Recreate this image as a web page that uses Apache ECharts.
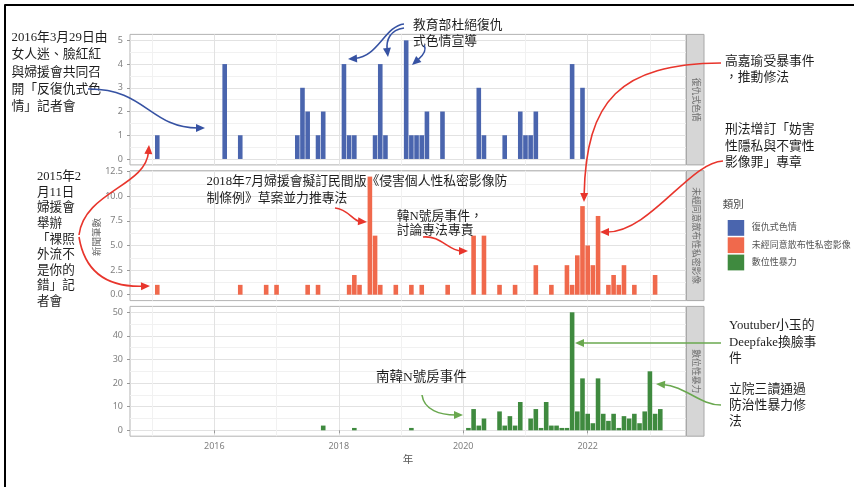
<!DOCTYPE html>
<html>
<head>
<meta charset="utf-8">
<title>數位性暴力相關新聞筆數</title>
<script src="https://cdn.jsdelivr.net/npm/echarts@6/dist/echarts.min.js"></script>
<style>
  html, body { margin: 0; padding: 0; background: #fff; }
  #chart { width: 854px; height: 487px; }
</style>
</head>
<body>
<div id="chart"></div>
<script>
// 類別（分面）
const categories = ['復仇式色情', '未經同意散布性私密影像', '數位性暴力']

// 復仇式色情：每月新聞筆數
const revengeMonths = ['2015-02', '2016-03', '2016-06', '2017-05', '2017-06', '2017-07', '2017-09', '2017-10',
  '2018-02', '2018-03', '2018-04', '2018-08', '2018-09', '2018-10', '2019-02', '2019-03', '2019-04', '2019-05',
  '2019-06', '2019-09', '2020-04', '2020-05', '2020-09', '2020-12', '2021-01', '2021-02', '2021-03', '2021-10', '2021-12']
const revengeCounts = [1, 4, 1, 1, 3, 2, 1, 2, 4, 1, 1, 1, 4, 1, 5, 1, 1, 1, 2, 2, 3, 1, 1, 2, 1, 1, 2, 4, 3]

// 未經同意散布性私密影像
const imageMonths = ['2015-02', '2016-06', '2016-11', '2017-01', '2017-07', '2017-09', '2018-03', '2018-04',
  '2018-05', '2018-07', '2018-08', '2018-09', '2018-12', '2019-03', '2019-05', '2019-10', '2020-03', '2020-05',
  '2020-08', '2020-11', '2021-03', '2021-06', '2021-09', '2021-10', '2021-11', '2021-12', '2022-01', '2022-02',
  '2022-03', '2022-05', '2022-06', '2022-07', '2022-08', '2022-10', '2023-02']
const imageCounts = [1, 1, 1, 1, 1, 1, 1, 2, 1, 12, 6, 1, 1, 1, 1, 1, 6, 6, 1, 1, 3, 1, 3, 1, 4, 9, 5, 3, 8, 1, 2, 1, 3, 1, 2]

// 數位性暴力
const digitalMonths = ['2017-10', '2018-04', '2019-03', '2020-02', '2020-03', '2020-04', '2020-05', '2020-08',
  '2020-09', '2020-10', '2020-11', '2020-12', '2021-02', '2021-03', '2021-04', '2021-05', '2021-06', '2021-07',
  '2021-08', '2021-09', '2021-10', '2021-11', '2021-12', '2022-01', '2022-02', '2022-03', '2022-04', '2022-05',
  '2022-06', '2022-07', '2022-08', '2022-09', '2022-10', '2022-11', '2022-12', '2023-01', '2023-02', '2023-03']
const digitalCounts = [2, 1, 1, 1, 9, 2, 5, 8, 2, 6, 2, 12, 5, 9, 1, 12, 2, 2, 1, 1, 50, 8, 22, 7, 3, 22, 7, 4,
  7, 1, 6, 5, 7, 3, 8, 25, 7, 9]

// 刻度
const yearLabels = [2016, 2018, 2020, 2022]
const yearLines = [2015, 2016, 2017, 2018, 2019, 2020, 2021, 2022, 2023]
const revengeTicks = [0, 1, 2, 3, 4, 5]
const imageTicks = [0, 2.5, 5, 7.5, 10, 12.5]
const digitalTicks = [0, 10, 20, 30, 40, 50]

// 樣式
const colors = ['#4a65ae', '#f0694c', '#3f8a3f']
const sansFont = "'Noto Sans', 'Noto Sans CJK TC', sans-serif"
const noteFont = "'Liberation Serif', 'Noto Sans CJK TC', serif"
const majorGrid = '#e2e2e2'
const minorGrid = '#f1f1f1'
const panels = [
  { top: 34.4, height: 130.5, range: [-0.25, 5.25], ticks: revengeTicks },
  { top: 170.7, height: 129.9, range: [-0.6, 12.6], ticks: imageTicks },
  { top: 306.4, height: 129.8, range: [-2.5, 52.5], ticks: digitalTicks }
]

// 'YYYY-MM' -> 年份小數
function toYear(month) {
  const [y, m] = month.split('-').map(Number)
  return y + (m - 1) / 12
}

function pairs(months, counts) {
  return months.map((m, i) => [toYear(m), counts[i]])
}

// 主刻度之間加上次格線
function withMinor(ticks) {
  const out = []
  ticks.forEach((t, i) => {
    out.push(t)
    if (i < ticks.length - 1) out.push((t + ticks[i + 1]) / 2)
  })
  return out
}

// 曲線箭頭
function arrow(pts, color) {
  const [p0, c1, c2, p3] = pts
  const dx = p3[0] - c2[0]
  const dy = p3[1] - c2[1]
  const len = Math.hypot(dx, dy)
  const ux = dx / len
  const uy = dy / len
  const head = 9
  const half = 4
  const bx = p3[0] - ux * head
  const by = p3[1] - uy * head
  return [
    {
      type: 'bezierCurve', z: 100, silent: true,
      shape: { x1: p0[0], y1: p0[1], cpx1: c1[0], cpy1: c1[1], cpx2: c2[0], cpy2: c2[1], x2: bx + ux * 2, y2: by + uy * 2 },
      style: { stroke: color, lineWidth: 1.6, fill: null }
    },
    {
      type: 'polygon', z: 100, silent: true,
      shape: { points: [p3, [bx - uy * half, by + ux * half], [bx + uy * half, by - ux * half]] },
      style: { fill: color }
    }
  ]
}

// 註解文字
function note(text, x, y, lh, size) {
  return {
    type: 'text', x: x, y: y, z: 100, silent: true,
    style: {
      text: text, fontSize: size || 12.8, fontFamily: noteFont, fill: '#1e1e1e',
      lineHeight: lh || 16, align: 'left', verticalAlign: 'top'
    }
  }
}

const xAxes = panels.map((p, i) => ({
  type: 'value', gridIndex: i, min: 2014.645, max: 2023.58,
  axisLine: { show: false },
  axisTick: { show: false, customValues: yearLines },
  axisLabel: {
    show: i === 2, customValues: yearLabels, margin: 6,
    fontSize: 9, color: '#808080', fontFamily: sansFont,
    formatter: v => String(Math.round(v))
  },
  splitLine: { show: true, lineStyle: { color: [minorGrid, majorGrid], width: 1 } }
}))
// 底部 x 軸小刻度
xAxes.push({
  type: 'value', gridIndex: 2, position: 'bottom', min: 2014.645, max: 2023.58,
  axisLine: { show: false },
  axisTick: { show: true, customValues: yearLabels, length: 3, lineStyle: { color: '#999' } },
  axisLabel: { show: false },
  splitLine: { show: false }
})

const yAxes = panels.map((p, i) => ({
  type: 'value', gridIndex: i, position: 'left', min: p.range[0], max: p.range[1],
  axisLine: { show: false },
  axisTick: { show: false, customValues: withMinor(p.ticks) },
  axisLabel: {
    customValues: p.ticks, margin: 7, fontSize: 9, color: '#808080', fontFamily: sansFont,
    formatter: v => (i === 1 ? v.toFixed(1) : String(v))
  },
  splitLine: { show: true, lineStyle: { color: [majorGrid, minorGrid], width: 1 } }
}))
panels.forEach((p, i) => {
  yAxes.push({
    type: 'value', gridIndex: i, position: 'left', min: p.range[0], max: p.range[1],
    axisLine: { show: false },
    axisTick: { show: true, customValues: p.ticks, length: 3, lineStyle: { color: '#999' } },
    axisLabel: { show: false },
    splitLine: { show: false }
  })
})

const seriesData = [
  pairs(revengeMonths, revengeCounts),
  pairs(imageMonths, imageCounts),
  pairs(digitalMonths, digitalCounts)
]

// 分面標籤
const strips = []
panels.forEach((p, i) => {
  strips.push({
    type: 'rect', z: 50, silent: true,
    shape: { x: 686.5, y: p.top, width: 17.5, height: p.height },
    style: { fill: '#d6d6d6', stroke: '#a8a8a8', lineWidth: 1 }
  })
  strips.push({
    type: 'text', z: 51, silent: true, x: 695.2, y: p.top + p.height / 2, rotation: -Math.PI / 2,
    style: {
      text: categories[i], fontSize: 8.8, fontFamily: sansFont, fill: '#6e6e6e',
      align: 'center', verticalAlign: 'middle'
    }
  })
})

const blue = '#3652a3'
const red = '#e8352c'
const green = '#6aa84f'

const graphics = [
  // 外框
  { type: 'line', z: 100, shape: { x1: 4.5, y1: 5, x2: 854, y2: 5 }, style: { stroke: '#000', lineWidth: 2 } },
  { type: 'line', z: 100, shape: { x1: 5, y1: 4.5, x2: 5, y2: 487 }, style: { stroke: '#000', lineWidth: 2 } },
  // 軸標題
  {
    type: 'text', x: 97, y: 237, rotation: Math.PI / 2, silent: true,
    style: { text: '新聞筆數', fontSize: 9.5, fontFamily: sansFont, fill: '#6a6a6a', align: 'center', verticalAlign: 'middle' }
  },
  {
    type: 'text', x: 408, y: 460, silent: true,
    style: { text: '年', fontSize: 10.5, fontFamily: sansFont, fill: '#555', align: 'center', verticalAlign: 'middle' }
  },
  // 圖例標題
  {
    type: 'text', x: 722.7, y: 205, silent: true,
    style: { text: '類別', fontSize: 10.5, fontFamily: sansFont, fill: '#444', align: 'left', verticalAlign: 'middle' }
  },
  ...strips,
  // 註解
  note('2016年3月29日由\n女人迷、臉紅紅\n與婦援會共同召\n開「反復仇式色\n情」記者會', 11.5, 29, 17.3),
  note('教育部杜絕復仇\n式色情宣導', 413, 17.7, 16),
  note('高嘉瑜受暴事件\n，推動修法', 725, 53.7, 16),
  note('刑法增訂「妨害\n性隱私與不實性\n影像罪」專章', 725, 122, 16.2),
  note('2018年7月婦援會擬訂民間版《侵害個人性私密影像防\n制條例》草案並力推專法', 206.5, 173.4, 16.6),
  note('韓N號房事件，\n討論專法專責', 396.7, 209, 14.5),
  note('2015年2\n月11日\n婦援會\n舉辦\n「裸照\n外流不\n是你的\n錯」記\n者會', 37, 169, 15.6, 12.6),
  note('南韓N號房事件', 376, 369.3, 16, 13.5),
  note('Youtuber小玉的\nDeepfake換臉事\n件', 729, 318, 16.2),
  note('立院三讀通過\n防治性暴力修\n法', 729, 382, 16),
  // 箭頭
  ...arrow([[88, 89], [145, 88], [150, 128], [205, 128]], blue),
  ...arrow([[404, 24], [385, 26], [378, 57], [348, 59]], blue),
  ...arrow([[404, 28], [390, 30], [386, 40], [388, 57]], blue),
  ...arrow([[424, 45], [428, 52], [420, 58], [412, 65]], blue),
  ...arrow([[79, 235], [84, 192], [146, 186], [149, 145]], red),
  ...arrow([[79, 237], [86, 280], [118, 287], [150, 286]], red),
  ...arrow([[335, 208], [348, 209], [353, 221], [367, 222]], red),
  ...arrow([[423, 237], [440, 235], [449, 251], [468, 251]], red),
  ...arrow([[721, 63], [620, 64], [586, 100], [584, 202]], red),
  ...arrow([[723, 161], [690, 162], [650, 232], [600, 232]], red),
  ...arrow([[721, 343], [680, 343], [620, 343], [575, 343]], green),
  ...arrow([[721, 405], [700, 405], [685, 386], [656, 384]], green),
  ...arrow([[422, 395], [424, 410], [440, 415], [463, 415]], green)
]

const option = {
  animation: false,
  backgroundColor: '#fff',
  grid: panels.map(p => ({
    left: 130, right: 168, top: p.top, height: p.height,
    show: true, borderColor: '#b3b3b3', borderWidth: 1, backgroundColor: '#fff'
  })),
  xAxis: xAxes,
  yAxis: yAxes,
  legend: {
    orient: 'vertical', left: 722.7, top: 215, itemWidth: 16.5, itemHeight: 15.8, itemGap: 1.5,
    icon: 'rect', data: categories,
    textStyle: { fontSize: 9, color: '#555', fontFamily: sansFont, padding: [0, 0, 0, 2.5] }
  },
  series: categories.map((name, i) => ({
    name: name, type: 'bar', xAxisIndex: i, yAxisIndex: i,
    barWidth: 4.6, data: seriesData[i],
    itemStyle: { color: colors[i] }
  })),
  graphic: graphics
}

const chart = echarts.init(document.getElementById('chart'))
chart.setOption(option)
</script>
</body>
</html>
